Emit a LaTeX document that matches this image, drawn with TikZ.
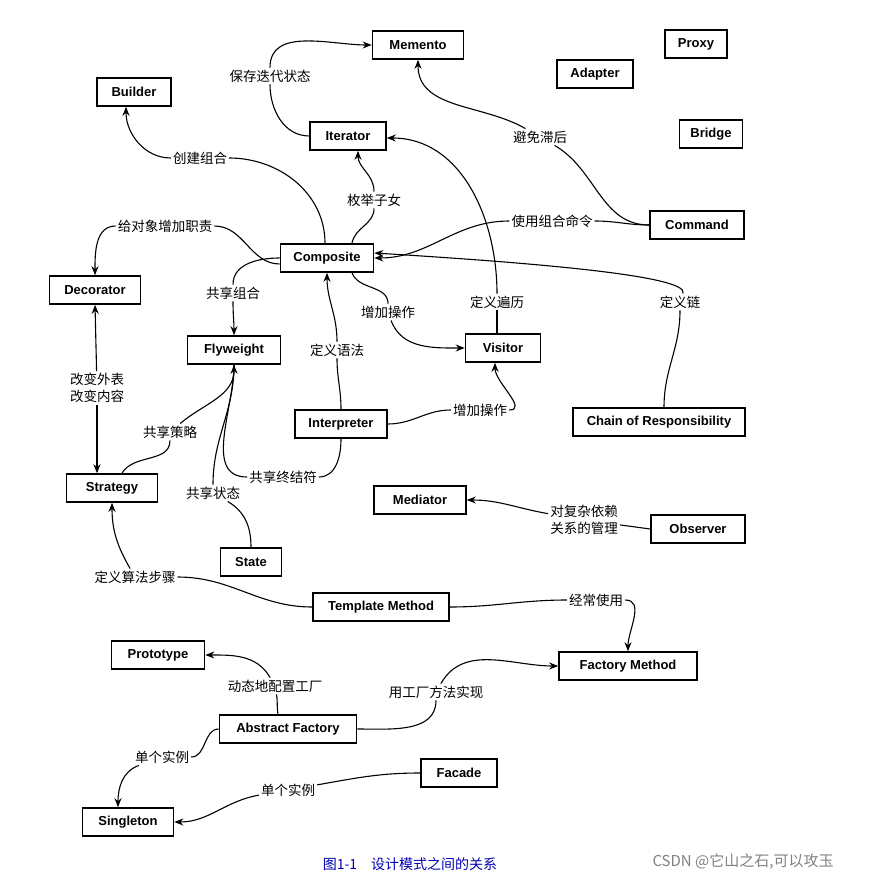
\documentclass[tikz,border=0pt]{standalone}
\usepackage{fontspec}
\setsansfont{Liberation Sans}
\newfontfamily\cjk{Noto Sans CJK SC}
\usetikzlibrary{arrows.meta}
\begin{document}
\begin{tikzpicture}[x=1pt,y=-1pt,
 box/.style={draw,line width=1.6pt,font=\sffamily\bfseries\fontsize{13}{15}\selectfont,minimum height=28pt,inner xsep=3pt,fill=white},
 lbl/.style={font=\cjk\fontsize{13.5}{17}\selectfont,inner sep=2pt,align=center},
 c/.style={line width=1.1pt,-{Stealth[length=9pt,width=7pt]}},
 cc/.style={line width=1.1pt}]
\useasboundingbox (0,0) rectangle (877,882);
% boxes
\node[box,minimum width=91pt] (mem) at (418,45) {Memento};
\node[box,minimum width=62pt] (proxy) at (696,44) {Proxy};
\node[box,minimum width=76pt] (adapt) at (595,74) {Adapter};
\node[box,minimum width=74pt] (build) at (134,92) {Builder};
\node[box,minimum width=63pt] (bridge) at (711,134) {Bridge};
\node[box,minimum width=76pt] (iter) at (348,136) {Iterator};
\node[box,minimum width=94pt] (cmd) at (697,225) {Command};
\node[box,minimum width=93pt] (comp) at (327,258) {Composite};
\node[box,minimum width=91pt] (deco) at (95,290) {Decorator};
\node[box,minimum width=93pt] (fly) at (234,350) {Flyweight};
\node[box,minimum width=75pt] (vis) at (503,348) {Visitor};
\node[box,minimum width=92pt] (interp) at (341,424) {Interpreter};
\node[box,minimum width=172pt] (chain) at (659,422) {Chain of Responsibility};
\node[box,minimum width=91pt] (strat) at (112,488) {Strategy};
\node[box,minimum width=92pt] (med) at (420,500) {Mediator};
\node[box,minimum width=94pt] (obs) at (698,529) {Observer};
\node[box,minimum width=61pt] (state) at (251,562) {State};
\node[box,minimum width=136pt] (tm) at (381,607) {Template Method};
\node[box,minimum width=93pt] (proto) at (158,655) {Prototype};
\node[box,minimum width=138pt] (fm) at (628,666) {Factory Method};
\node[box,minimum width=137pt] (af) at (288,729) {Abstract Factory};
\node[box,minimum width=76pt] (fac) at (459,773) {Facade};
\node[box,minimum width=91pt] (single) at (128,822) {Singleton};
% labels
\node[lbl] (l1) at (270,76) {保存迭代状态};
\node[lbl] (l2) at (540,137) {避免滞后};
\node[lbl] (l3) at (200,158) {创建组合};
\node[lbl] (l4) at (374,200) {枚举子女};
\node[lbl] (l5) at (552,221) {使用组合命令};
\node[lbl] (l6) at (165,226) {给对象增加职责};
\node[lbl] (l7) at (233,293) {共享组合};
\node[lbl] (l8) at (388,312) {增加操作};
\node[lbl] (l9) at (497,302) {定义遍历};
\node[lbl] (l10) at (680,302) {定义链};
\node[lbl] (l11) at (97,388) {改变外表\\改变内容};
\node[lbl] (l12) at (337,350) {定义语法};
\node[lbl] (l13) at (480,410) {增加操作};
\node[lbl] (l14) at (170,432) {共享策略};
\node[lbl] (l15) at (213,493) {共享状态};
\node[lbl] (l16) at (283,477) {共享终结符};
\node[lbl] (l17) at (584,520) {对复杂依赖\\关系的管理};
\node[lbl] (l18) at (135,577) {定义算法步骤};
\node[lbl] (l19) at (596,600) {经常使用};
\node[lbl] (l20) at (275,686) {动态地配置工厂};
\node[lbl] (l21) at (436,692) {用工厂方法实现};
\node[lbl] (l22) at (162,757) {单个实例};
\node[lbl] (l23) at (288,790) {单个实例};
% connectors
\draw[cc] (iter.west) to[out=180,in=-90] (l1);
\draw[c] (l1) to[out=90,in=180] (mem.west);
\draw[cc] (cmd.west) to[out=180,in=-30] (l2);
\draw[c] (l2) to[out=150,in=-90] (mem.south);
\draw[cc] ([xshift=-2pt]comp.north) to[out=90,in=0] (l3);
\draw[c] (l3) to[out=180,in=-90] ([xshift=-8pt]build.south);
\draw[cc] ([xshift=25pt]comp.north) to[out=80,in=-90] (l4);
\draw[c] (l4) to[out=90,in=-90] ([xshift=10pt]iter.south);
\draw[cc] (cmd.west) to[out=180,in=0] (l5);
\draw[c] (l5) to[out=180,in=0] (comp.east);
\draw[cc] ([yshift=-6pt]comp.west) to[out=180,in=0] (l6);
\draw[c] (l6) to[out=180,in=90] (deco.north);
\draw[cc] (comp.west) to[out=180,in=90] (l7);
\draw[c] (l7) to[out=-90,in=90] (fly.north);
\draw[cc] ([xshift=25pt]comp.south) to[out=-70,in=90] (l8);
\draw[c] (l8) to[out=-70,in=180] (vis.west);
\draw[cc] ([xshift=-6pt]vis.north) to[out=90,in=-90] (l9);
\draw[c] (l9) to[out=90,in=0] ([yshift=-2pt]iter.east);
\draw[cc] ([xshift=5pt]chain.north) to[out=90,in=-90] (l10);
\draw[c] (l10) .. controls (690,275) and (520,262) .. ([yshift=5pt]comp.east);
\draw[c] (l11) -- (deco.south);
\draw[c] (l11) -- ([xshift=-15pt]strat.north);
\draw[cc] (interp.north) to[out=90,in=-90] (l12);
\draw[c] (l12) to[out=90,in=-90] (comp.south);
\draw[cc] (interp.east) to[out=0,in=180] (l13);
\draw[c] (l13) to[out=0,in=-90] ([xshift=-8pt]vis.south);
\draw[cc] ([xshift=10pt]strat.north) to[out=60,in=-90] (l14);
\draw[c] (l14) to[out=40,in=-90] (fly.south);
\draw[cc] (state.north) to[out=90,in=-30] (l15);
\draw[cc] (l15) to[out=90,in=-90] (fly.south);
\draw[cc] (interp.south) to[out=-90,in=0] (l16);
\draw[cc] (l16) to[out=180,in=-90] (fly.south);
\draw[cc] (obs.west) -- (l17);
\draw[c] (l17) to[out=170,in=0] (med.east);
\draw[cc] (tm.west) to[out=180,in=0] (l18);
\draw[c] (l18) to[out=120,in=-90] (strat.south);
\draw[cc] (tm.east) to[out=0,in=180] (l19);
\draw[c] (l19) to[out=0,in=90] (fm.north);
\draw[cc] ([xshift=-10pt]af.north) to[out=100,in=-80] (l20);
\draw[c] (l20) to[out=120,in=0] (proto.east);
\draw[cc] (af.east) to[out=0,in=-90] (l21);
\draw[c] (l21) to[out=60,in=180] (fm.west);
\draw[cc] (af.west) to[out=180,in=0] (l22);
\draw[c] (l22) to[out=200,in=90] ([xshift=-10pt]single.north);
\draw[cc] (fac.west) to[out=180,in=10] (l23);
\draw[c] (l23) to[out=190,in=0] (single.east);
% caption
\node[font=\cjk\fontsize{14}{16}\selectfont,text=blue!70!black] (cap) at (410,864) {图1-1\quad 设计模式之间的关系};
\node[font=\cjk\fontsize{15}{17}\selectfont,text=gray] (wm) at (743,862) {CSDN @它山之石,可以攻玉};
\end{tikzpicture}
\end{document}
